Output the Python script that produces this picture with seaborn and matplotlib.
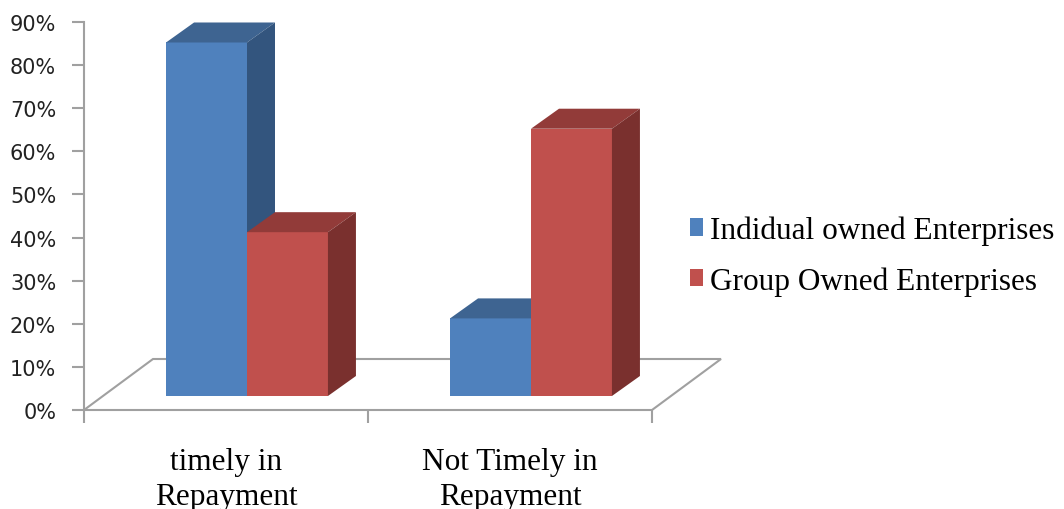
import numpy as np
import pandas as pd
import matplotlib
matplotlib.use("Agg")
import matplotlib.pyplot as plt
import matplotlib.transforms as mtransforms
from matplotlib.patches import Polygon, Rectangle
from matplotlib.ticker import PercentFormatter, FixedLocator
from matplotlib.font_manager import FontProperties
import seaborn as sns

# ---- data ----
categories = ["timely in\nRepayment", "Not Timely in\nRepayment"]
series = ["Indidual owned Enterprises", "Group Owned Enterprises"]
individual_vals = [0.82, 0.18]
group_vals = [0.38, 0.62]
y_ticks = [0.0, 0.1, 0.2, 0.3, 0.4, 0.5, 0.6, 0.7, 0.8, 0.9]

# ---- styles ----
front_cols = ["#4F81BD", "#C0504D"]
top_cols = ["#3E6491", "#923B39"]
side_cols = ["#33557E", "#7A302E"]
gray = "#A0A0A0"
serif = FontProperties(family="Liberation Serif", size=22.5)

sns.set_style("white")
plt.rcParams["font.family"] = ["DejaVu Sans"]

df = pd.DataFrame({
    "category": categories * 2,
    "series": [series[0]] * 2 + [series[1]] * 2,
    "value": individual_vals + group_vals,
})

W, H = 1064, 510
fig = plt.figure(figsize=(W / 100, H / 100), dpi=100)
ax = fig.add_axes([84 / W, (H - 411) / H, (652 - 84) / W, (411 - 23) / H])

sns.barplot(data=df, x="category", y="value", hue="series", order=categories,
            hue_order=series, palette=front_cols, saturation=1, width=0.57,
            linewidth=0, errorbar=None, ax=ax)

bars = [p for p in ax.patches if isinstance(p, Rectangle) and p.get_height() > 0]

ax.set_xlim(-0.5, 1.5)
ax.set_ylim(0, 0.9)
ax.set_xlabel("")
ax.set_ylabel("")

handles, labels = ax.get_legend_handles_labels()
if ax.get_legend() is not None:
    ax.get_legend().remove()

# y axis
ax.yaxis.set_major_locator(FixedLocator(y_ticks))
ax.yaxis.set_major_formatter(PercentFormatter(1, decimals=0))
ax.tick_params(axis="y", which="major", left=True, length=9, width=1.5,
               color=gray, pad=11, labelsize=15, labelcolor="#222222")
for s in ["top", "right", "bottom"]:
    ax.spines[s].set_visible(False)
ax.spines["left"].set_color(gray)
ax.spines["left"].set_linewidth(1.5)

# x axis
ax.set_xticks([0, 1])
ax.set_xticklabels(categories, fontproperties=serif, linespacing=1.25,
                   color="black")
ax.set_xticks([-0.5, 0.5, 1.5], minor=True)
ax.tick_params(axis="x", which="major", bottom=True, length=0, pad=27)
ax.tick_params(axis="x", which="minor", bottom=True, length=9, width=1.5,
               color=gray)

# floor (3-D base)
dx_f, dy_f = 69 / 568, 51 / 388
floor = Polygon([(0, 0), (1, 0), (1 + dx_f, dy_f), (dx_f, dy_f)], closed=True,
                facecolor="none", edgecolor=gray, linewidth=1.5,
                transform=ax.transAxes, clip_on=False, zorder=1)
ax.add_patch(floor)

# 3-D bar faces
offset = mtransforms.ScaledTranslation(0.21, 0.14, fig.dpi_scale_trans)
tr = ax.transData + offset
depth_x, depth_y = 0.28 * fig.dpi, 0.20 * fig.dpi
inv = fig.transFigure.inverted()

bars = sorted(bars, key=lambda p: p.get_x())
for i, p in enumerate(bars):
    hexcol = matplotlib.colors.to_hex(p.get_facecolor()).upper()
    col_idx = front_cols.index(hexcol) if hexcol in front_cols else 0
    x0, w, h = p.get_x(), p.get_width(), p.get_height()
    (X0, Y0), (X1, Y1) = tr.transform([(x0, 0), (x0 + w, h)])
    base = 2 + i * 0.1
    p.set_transform(tr)
    p.set_zorder(base)
    p.set_clip_on(False)
    top = [(X0, Y1), (X1, Y1), (X1 + depth_x, Y1 + depth_y), (X0 + depth_x, Y1 + depth_y)]
    side = [(X1, Y0), (X1 + depth_x, Y0 + depth_y), (X1 + depth_x, Y1 + depth_y), (X1, Y1)]
    ax.add_patch(Polygon(inv.transform(top), closed=True, facecolor=top_cols[col_idx],
                         edgecolor="none", transform=fig.transFigure,
                         clip_on=False, zorder=base + 0.01))
    ax.add_patch(Polygon(inv.transform(side), closed=True, facecolor=side_cols[col_idx],
                         edgecolor="none", transform=fig.transFigure,
                         clip_on=False, zorder=base + 0.02))

# legend
leg = fig.legend(handles, labels, loc="center left", bbox_to_anchor=(690 / W, 0.497),
                 frameon=False, prop=serif, handlelength=0.42, handleheight=0.5,
                 handletextpad=0.23, labelspacing=0.68, borderpad=0, borderaxespad=0,
                 labelcolor="black")

fig.savefig("out.png", dpi=100)
